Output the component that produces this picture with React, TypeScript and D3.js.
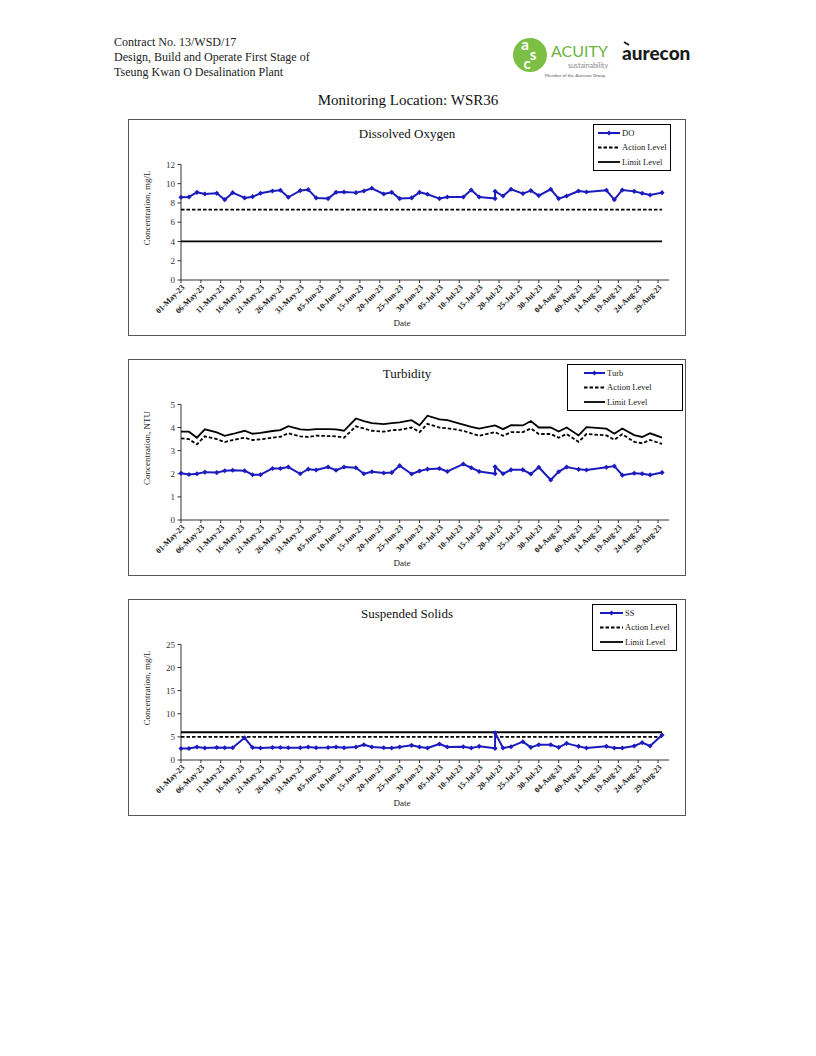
import { useEffect, useRef } from 'react';
import * as d3 from 'd3';

// sampling dates (same for all three parameters)
const sampleDates = [
  '2023-05-01', '2023-05-03', '2023-05-05', '2023-05-07', '2023-05-10', '2023-05-12', '2023-05-14',
  '2023-05-17', '2023-05-19', '2023-05-21', '2023-05-24', '2023-05-26', '2023-05-28', '2023-05-31',
  '2023-06-02', '2023-06-04', '2023-06-07', '2023-06-09', '2023-06-11', '2023-06-14', '2023-06-16',
  '2023-06-18', '2023-06-21', '2023-06-23', '2023-06-25', '2023-06-28', '2023-06-30', '2023-07-02',
  '2023-07-05', '2023-07-07', '2023-07-11', '2023-07-13', '2023-07-15', '2023-07-19', '2023-07-19',
  '2023-07-21', '2023-07-23', '2023-07-26', '2023-07-28', '2023-07-30', '2023-08-02', '2023-08-04',
  '2023-08-06', '2023-08-09', '2023-08-11', '2023-08-16', '2023-08-18', '2023-08-20', '2023-08-23',
  '2023-08-25', '2023-08-27', '2023-08-30',
];

const tickDates = [
  '2023-05-01', '2023-05-06', '2023-05-11', '2023-05-16', '2023-05-21', '2023-05-26', '2023-05-31',
  '2023-06-05', '2023-06-10', '2023-06-15', '2023-06-20', '2023-06-25', '2023-06-30',
  '2023-07-05', '2023-07-10', '2023-07-15', '2023-07-20', '2023-07-25', '2023-07-30',
  '2023-08-04', '2023-08-09', '2023-08-14', '2023-08-19', '2023-08-24', '2023-08-29',
];

const doValues = [
  8.59, 8.62, 9.1, 8.93, 9.0, 8.34, 9.07, 8.52, 8.65, 9.0, 9.24, 9.31, 8.59, 9.28, 9.38, 8.52,
  8.45, 9.1, 9.14, 9.07, 9.24, 9.52, 8.93, 9.1, 8.45, 8.52, 9.1, 8.9, 8.45, 8.62, 8.62, 9.35,
  8.62, 8.45, 9.2, 8.72, 9.42, 8.97, 9.28, 8.76, 9.42, 8.45, 8.72, 9.24, 9.14, 9.31, 8.34, 9.35,
  9.2, 9.0, 8.83, 9.07,
];
const doAction = 7.3;
const doLimit = 4;

const turbValues = [
  2.02, 1.97, 2.0, 2.07, 2.05, 2.13, 2.15, 2.13, 1.96, 1.96, 2.23, 2.23, 2.29, 2.0, 2.2, 2.16,
  2.29, 2.15, 2.29, 2.26, 2.0, 2.09, 2.03, 2.05, 2.35, 1.99, 2.12, 2.2, 2.23, 2.1, 2.42, 2.26,
  2.1, 2.0, 2.3, 2.0, 2.17, 2.17, 1.99, 2.28, 1.73, 2.09, 2.29, 2.19, 2.16, 2.28, 2.33, 1.94,
  2.02, 2.0, 1.95, 2.05,
];
const turbAction = [
  3.53, 3.5, 3.27, 3.62, 3.5, 3.37, 3.46, 3.56, 3.46, 3.49, 3.56, 3.6, 3.75, 3.62, 3.59, 3.65,
  3.63, 3.62, 3.56, 4.05, 3.96, 3.86, 3.82, 3.88, 3.9, 4.0, 3.8, 4.16, 4.0, 3.97, 3.86, 3.75,
  3.64, 3.8, 3.8, 3.64, 3.8, 3.8, 3.96, 3.72, 3.72, 3.56, 3.72, 3.38, 3.72, 3.66, 3.47, 3.71,
  3.38, 3.32, 3.46, 3.29,
];
const turbLimit = [
  3.82, 3.82, 3.56, 3.92, 3.79, 3.64, 3.72, 3.86, 3.73, 3.77, 3.85, 3.89, 4.06, 3.92, 3.9, 3.93,
  3.93, 3.92, 3.86, 4.39, 4.28, 4.19, 4.15, 4.19, 4.22, 4.32, 4.1, 4.51, 4.35, 4.32, 4.13, 4.03,
  3.95, 4.09, 4.09, 3.93, 4.1, 4.09, 4.28, 4.0, 4.0, 3.83, 4.0, 3.66, 4.02, 3.95, 3.73, 3.96,
  3.67, 3.59, 3.75, 3.56,
];

const ssValues = [
  2.5, 2.5, 2.8, 2.6, 2.7, 2.65, 2.65, 4.8, 2.7, 2.6, 2.7, 2.7, 2.65, 2.65, 2.8, 2.65, 2.7,
  2.8, 2.65, 2.8, 3.3, 2.8, 2.65, 2.6, 2.8, 3.17, 2.81, 2.59, 3.46, 2.81, 2.88, 2.59, 2.95,
  2.52, 5.9, 2.59, 2.88, 3.96, 2.74, 3.31, 3.31, 2.74, 3.6, 2.95, 2.59, 2.95, 2.59, 2.59, 3.03,
  3.75, 3.03, 5.4,
];
const ssAction = 5;
const ssLimit = 6;

const BLUE = '#1c1cbe';
const SERIF = '"Liberation Serif", "Times New Roman", serif';
const parse = d3.timeParse('%Y-%m-%d');
const fmt = d3.timeFormat('%d-%b-%y');

type Level = number | number[];
type ChartCfg = {
  top: number;
  title: string;
  yLabel: string;
  yMax: number;
  yStep: number;
  name: string;
  values: number[];
  action: Level;
  limit: Level;
  legend: { x0: number; x1: number; l0: number; l1: number };
};

const charts: ChartCfg[] = [
  {
    top: 0, title: 'Dissolved Oxygen', yLabel: 'Concentration, mg/L', yMax: 12, yStep: 2,
    name: 'DO', values: doValues, action: doAction, limit: doLimit,
    legend: { x0: 593, x1: 670, l0: 598, l1: 620 },
  },
  {
    top: 240, title: 'Turbidity', yLabel: 'Concentration, NTU', yMax: 5, yStep: 1,
    name: 'Turb', values: turbValues, action: turbAction, limit: turbLimit,
    legend: { x0: 567, x1: 682, l0: 584, l1: 605 },
  },
  {
    top: 480, title: 'Suspended Solids', yLabel: 'Concentration, mg/L', yMax: 25, yStep: 5,
    name: 'SS', values: ssValues, action: ssAction, limit: ssLimit,
    legend: { x0: 592, x1: 676, l0: 600, l1: 623 },
  },
];

function drawChart(svg: d3.Selection<SVGSVGElement, unknown, null, undefined>, c: ChartCfg) {
  const dates = sampleDates.map((s) => parse(s)!);
  const x = d3.scaleTime().domain([parse('2023-05-01')!, parse('2023-09-01')!]).range([181, 670]);
  const y = d3.scaleLinear().domain([0, c.yMax]).range([c.top + 280, c.top + 164.4]);

  const g = svg.append('g');

  g.append('rect')
    .attr('x', 128.5).attr('y', c.top + 119.5)
    .attr('width', 557).attr('height', 216)
    .attr('fill', '#fff').attr('stroke', '#555').attr('stroke-width', 1);

  g.append('text')
    .text(c.title)
    .attr('x', 407).attr('y', c.top + 138)
    .attr('text-anchor', 'middle')
    .attr('font-family', SERIF).attr('font-size', 13).attr('fill', '#111');

  // y axis
  g.append('line')
    .attr('x1', 181).attr('x2', 181)
    .attr('y1', y(0)).attr('y2', y(c.yMax))
    .attr('stroke', '#333').attr('stroke-width', 1);
  const yTicks = d3.range(0, c.yMax + c.yStep / 2, c.yStep);
  yTicks.forEach((t) => {
    g.append('line')
      .attr('x1', 177.5).attr('x2', 181)
      .attr('y1', y(t)).attr('y2', y(t))
      .attr('stroke', '#333');
    g.append('text')
      .text(t)
      .attr('x', 175).attr('y', y(t)).attr('dy', '0.35em')
      .attr('text-anchor', 'end')
      .attr('font-family', SERIF).attr('font-size', 9).attr('fill', '#333');
  });
  g.append('text')
    .text(c.yLabel)
    .attr('transform', `translate(150,${c.top + 208}) rotate(-90)`)
    .attr('text-anchor', 'middle')
    .attr('font-family', SERIF).attr('font-size', 9).attr('fill', '#222');

  // x axis
  g.append('line')
    .attr('x1', 181).attr('x2', 669)
    .attr('y1', y(0)).attr('y2', y(0))
    .attr('stroke', '#333').attr('stroke-width', 1);
  tickDates.forEach((s) => {
    const d = parse(s)!;
    const tx = x(d);
    g.append('line')
      .attr('x1', tx).attr('x2', tx)
      .attr('y1', y(0)).attr('y2', y(0) + 3)
      .attr('stroke', '#333');
    g.append('text')
      .text(fmt(d))
      .attr('transform', `translate(${tx + 2},${y(0) + 6}) rotate(-45)`)
      .attr('text-anchor', 'end')
      .attr('dy', '0.35em')
      .attr('font-family', SERIF).attr('font-size', 8).attr('font-weight', 700).attr('fill', '#222');
  });
  g.append('text')
    .text('Date')
    .attr('x', 402).attr('y', c.top + 326)
    .attr('text-anchor', 'middle')
    .attr('font-family', SERIF).attr('font-size', 9).attr('fill', '#222');

  const levelPts = (lv: Level): [Date, number][] =>
    Array.isArray(lv)
      ? dates.map((d, i) => [d, lv[i]] as [Date, number])
      : [[dates[0], lv], [dates[dates.length - 1], lv]];

  const line = d3.line<[Date, number]>().x((d) => x(d[0])).y((d) => y(d[1]));

  g.append('path')
    .attr('d', line(levelPts(c.action)))
    .attr('fill', 'none').attr('stroke', '#000')
    .attr('stroke-width', 1.8).attr('stroke-dasharray', '3.5,2');
  g.append('path')
    .attr('d', line(levelPts(c.limit)))
    .attr('fill', 'none').attr('stroke', '#000')
    .attr('stroke-width', 1.8);

  const pts = dates.map((d, i) => [d, c.values[i]] as [Date, number]);
  g.append('path')
    .attr('d', line(pts))
    .attr('fill', 'none').attr('stroke', BLUE)
    .attr('stroke-width', 2).attr('stroke-linejoin', 'round');

  const diamond = d3.symbol(d3.symbolSquare, 13)();
  g.selectAll('path.mk')
    .data(pts)
    .join('path')
    .attr('class', 'mk')
    .attr('d', diamond)
    .attr('transform', (d) => `translate(${x(d[0])},${y(d[1])}) rotate(45)`)
    .attr('fill', BLUE);

  // legend
  const L = c.legend;
  g.append('rect')
    .attr('x', L.x0 + 0.5).attr('y', c.top + 124.5)
    .attr('width', L.x1 - L.x0).attr('height', 46)
    .attr('fill', '#fff').attr('stroke', '#000').attr('stroke-width', 1);
  const rows = [
    { label: c.name, y: c.top + 133, kind: 'series' },
    { label: 'Action Level', y: c.top + 147.5, kind: 'action' },
    { label: 'Limit Level', y: c.top + 162, kind: 'limit' },
  ];
  rows.forEach((r) => {
    g.append('line')
      .attr('x1', L.l0).attr('x2', L.l1)
      .attr('y1', r.y).attr('y2', r.y)
      .attr('stroke', r.kind === 'series' ? BLUE : '#000')
      .attr('stroke-width', r.kind === 'series' ? 2 : 1.8)
      .attr('stroke-dasharray', r.kind === 'action' ? '3.5,2' : null);
    if (r.kind === 'series') {
      g.append('path')
        .attr('d', diamond)
        .attr('transform', `translate(${(L.l0 + L.l1) / 2},${r.y}) rotate(45)`)
        .attr('fill', BLUE);
    }
    g.append('text')
      .text(r.label)
      .attr('x', L.l1 + 2).attr('y', r.y).attr('dy', '0.35em')
      .attr('font-family', SERIF).attr('font-size', 8.5).attr('fill', '#222');
  });
}

function drawHeader(svg: d3.Selection<SVGSVGElement, unknown, null, undefined>) {
  const head = ['Contract No. 13/WSD/17', 'Design, Build and Operate First Stage of', 'Tseung Kwan O Desalination Plant'];
  head.forEach((t, i) => {
    svg.append('text')
      .text(t)
      .attr('x', 114).attr('y', 46 + i * 15)
      .attr('font-family', SERIF).attr('font-size', 12).attr('fill', '#222');
  });

  // logos
  svg.append('circle').attr('cx', 530).attr('cy', 55).attr('r', 17).attr('fill', '#7cbf45');
  [
    { t: 'a', x: 525, y: 50 },
    { t: 's', x: 533, y: 60 },
    { t: 'c', x: 527, y: 69 },
  ].forEach((l) => {
    svg.append('text').text(l.t)
      .attr('x', l.x).attr('y', l.y).attr('text-anchor', 'middle')
      .attr('font-family', 'Lato, sans-serif').attr('font-weight', 700)
      .attr('font-size', 15).attr('fill', '#fff');
  });
  svg.append('text').text('ACUITY')
    .attr('x', 551).attr('y', 57)
    .attr('font-family', 'Lato, sans-serif').attr('font-size', 16).attr('fill', '#6cb33f');
  svg.append('text').text('sustainability')
    .attr('x', 608).attr('y', 68).attr('text-anchor', 'end')
    .attr('font-family', 'Lato, sans-serif').attr('font-size', 7).attr('fill', '#888');
  svg.append('text').text('Member of the Aurecon Group')
    .attr('x', 575).attr('y', 77).attr('text-anchor', 'middle')
    .attr('font-family', 'Lato, sans-serif').attr('font-size', 4.5).attr('fill', '#555');
  svg.append('text').text('aurecon')
    .attr('x', 622).attr('y', 60)
    .attr('font-family', 'Lato, sans-serif').attr('font-weight', 900)
    .attr('font-size', 19).attr('fill', '#1a1a1a');
  svg.append('path')
    .attr('d', 'M624,42 L629,45')
    .attr('stroke', '#1a1a1a').attr('stroke-width', 2);

  svg.append('text').text('Monitoring Location: WSR36')
    .attr('x', 408).attr('y', 105).attr('text-anchor', 'middle')
    .attr('font-family', SERIF).attr('font-size', 15).attr('fill', '#111');
}

export default function App() {
  const ref = useRef<SVGSVGElement | null>(null);

  useEffect(() => {
    const el = ref.current;
    if (!el) return;
    const svg = d3.select(el);
    svg.selectAll('*').remove();
    drawHeader(svg);
    charts.forEach((c) => drawChart(svg, c));
  }, []);

  return (
    <svg
      ref={ref}
      width={816}
      height={1056}
      style={{ position: 'absolute', left: 0, top: 0, background: '#fff' }}
    />
  );
}
